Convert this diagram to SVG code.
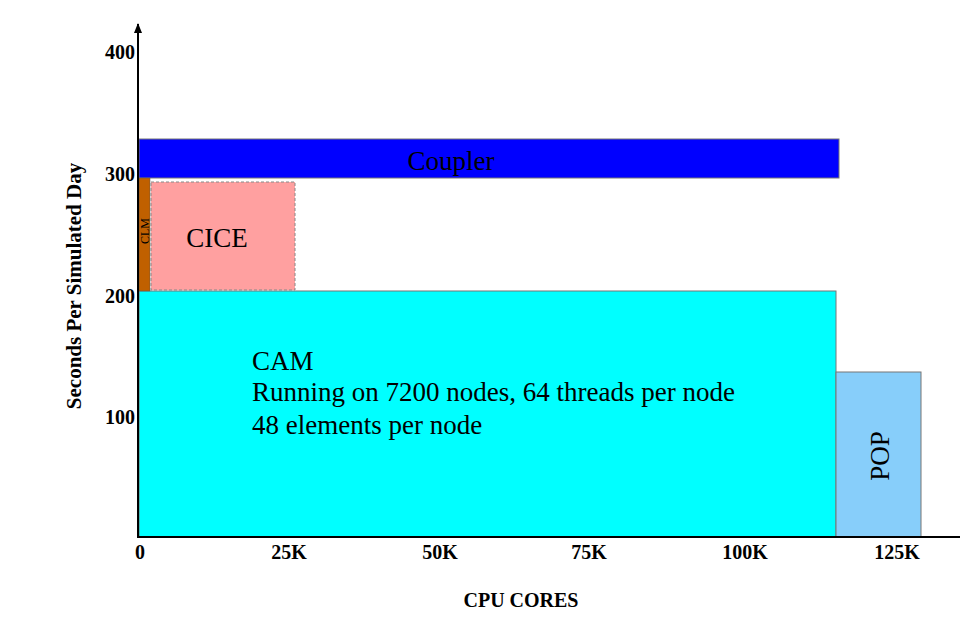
<svg xmlns="http://www.w3.org/2000/svg" width="960" height="624" viewBox="0 0 960 624">
<style>
.lbl{font-family:"Liberation Serif","Times New Roman",serif;font-size:27px;fill:#000}
.tick{font-family:"Liberation Serif","Times New Roman",serif;font-size:20px;font-weight:bold;fill:#000}
.bar{stroke:#777;stroke-width:1}
</style>
<defs>
<marker id="arr" markerWidth="10" markerHeight="10" refX="9" refY="5" orient="auto" markerUnits="userSpaceOnUse">
<path d="M0,1 L10,5 L0,9 Z" fill="#000"/>
</marker>
</defs>
<rect width="960" height="624" fill="#fff"/>
<g id="cam"><rect class="bar" x="139" y="291" width="697" height="246" fill="#00ffff"/>
<text class="lbl" x="252" y="370">CAM</text>
<text class="lbl" x="252" y="401">Running on 7200 nodes, 64 threads per node</text>
<text class="lbl" x="252" y="434">48 elements per node</text></g>
<g id="pop"><rect class="bar" x="836" y="372" width="85" height="165" fill="#87cefa"/>
<text class="lbl" transform="translate(889,456) rotate(-90)" text-anchor="middle">POP</text></g>
<g id="coupler"><rect class="bar" x="139" y="139" width="700" height="39" fill="#0000ff"/>
<text class="lbl" x="451" y="170" text-anchor="middle">Coupler</text></g>
<g id="clm"><rect x="139" y="178" width="11" height="113" fill="#c06000" stroke="#555" stroke-width="0.5"/>
<text transform="translate(148.5,231) rotate(-90)" text-anchor="middle" style="font-family:'Liberation Serif',serif;font-size:12px;fill:#000">CLM</text></g>
<g id="cice"><rect x="151" y="182" width="144" height="108" fill="#ffa0a0" stroke="#888" stroke-width="1" stroke-dasharray="3,2"/>
<text class="lbl" x="217" y="247" text-anchor="middle">CICE</text></g>
<g id="axes">
<line x1="138" y1="538" x2="138" y2="24" stroke="#000" stroke-width="2" marker-end="url(#arr)"/>
<line x1="137" y1="537" x2="960" y2="537" stroke="#000" stroke-width="2"/>
</g>
<g id="labels">
<text class="tick" x="135" y="59" text-anchor="end">400</text>
<text class="tick" x="135" y="181" text-anchor="end">300</text>
<text class="tick" x="135" y="303" text-anchor="end">200</text>
<text class="tick" x="135" y="424" text-anchor="end">100</text>
<text class="tick" x="140" y="559" text-anchor="middle">0</text>
<text class="tick" x="289" y="559" text-anchor="middle">25K</text>
<text class="tick" x="440" y="559" text-anchor="middle">50K</text>
<text class="tick" x="589" y="559" text-anchor="middle">75K</text>
<text class="tick" x="745" y="559" text-anchor="middle">100K</text>
<text class="tick" x="897" y="559" text-anchor="middle">125K</text>
<text class="tick" x="521" y="607" text-anchor="middle">CPU CORES</text>
<text class="tick" transform="translate(81,286) rotate(-90)" text-anchor="middle" style="font-size:21px">Seconds Per Simulated Day</text>
</g>
</svg>
